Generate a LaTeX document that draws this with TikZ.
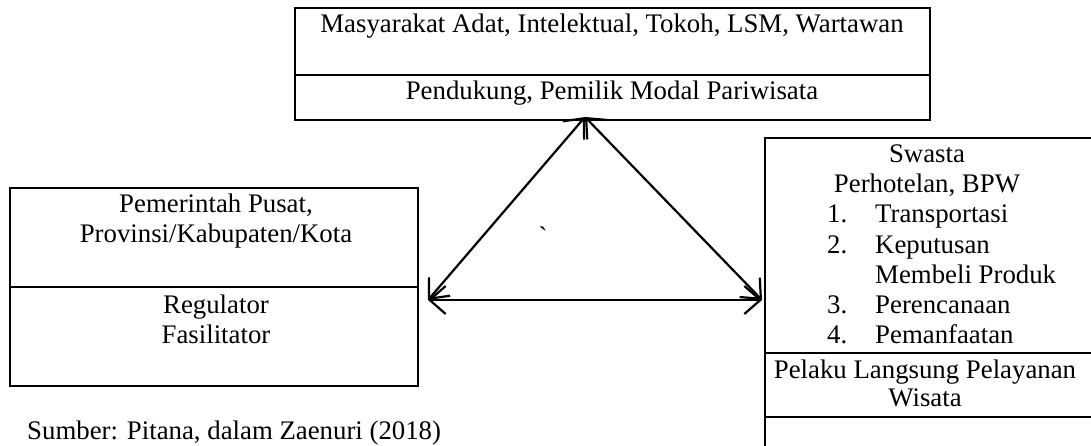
\documentclass[tikz,border=0pt]{standalone}
\usepackage{fontspec}
\setmainfont{Liberation Serif}
\usetikzlibrary{arrows.meta}
\begin{document}
\begin{tikzpicture}[x=1pt,y=-1pt,
  txt/.style={inner sep=0pt, anchor=base, font=\fontsize{26.8}{30}\selectfont},
  txtw/.style={txt, anchor=base west},
  boxline/.style={line width=2.2pt},
  barb/.tip={Straight Barb[length=16pt,width=28pt,line width=2.2pt]},
  rel/.style={line width=2.2pt, barb-barb}
]
\useasboundingbox (0,0) rectangle (1091,446);

% Top box
\node[boxline, draw, minimum width=635pt, minimum height=112pt, inner sep=0pt] (topbox) at (612.5,64) {};
\draw[boxline] (295,75) -- (930,75);
\node[txt] (t1) at (612,33) {Masyarakat Adat, Intelektual, Tokoh, LSM, Wartawan};
\node[txt] (t2) at (612,100) {Pendukung, Pemilik Modal Pariwisata};

% Left box
\node[boxline, draw, minimum width=408pt, minimum height=198pt, inner sep=0pt] (leftbox) at (214,287) {};
\draw[boxline] (10,287) -- (418,287);
\node[txt] (l1) at (216,213) {Pemerintah Pusat,};
\node[txt] (l2) at (216,243) {Provinsi/Kabupaten/Kota};
\node[txt] (l3) at (216,313) {Regulator};
\node[txt] (l4) at (216,343) {Fasilitator};

% Right box (cut by the page edge)
\draw[boxline] (1100,138) -- (765,138) -- (765,460);
\draw[boxline] (765,353) -- (1100,353);
\draw[boxline] (765,417) -- (1100,417);
\node[txt] (r1) at (927,163) {Swasta};
\node[txt] (r2) at (927,193) {Perhotelan, BPW};
\node[txtw] (n1) at (827,223) {1.};
\node[txtw] (r3) at (875,223) {Transportasi};
\node[txtw] (n2) at (827,253) {2.};
\node[txtw] (r4) at (875,253) {Keputusan};
\node[txtw] (r5) at (875,283) {Membeli Produk};
\node[txtw] (n3) at (827,313) {3.};
\node[txtw] (r6) at (875,313) {Perencanaan};
\node[txtw] (n4) at (827,343) {4.};
\node[txtw] (r7) at (875,343) {Pemanfaatan};
\node[txt] (r8) at (925,378) {Pelaku Langsung Pelayanan};
\node[txt] (r9) at (925,406) {Wisata};

% stray mark
\node[txt, anchor=center] (tick) at (543,236) {\textasciigrave};

% Arrows
\coordinate (apex) at (585,117);
\coordinate (pl) at (428,300);
\coordinate (pr) at (762,300);
\draw[rel] (pl) -- (apex);
\draw[rel] (pr) -- (apex);
\draw[rel] (pl) -- (pr);

% Source
\node[txtw] (src) at (27,439) {Sumber: Pitana, dalam Zaenuri (2018)};
\end{tikzpicture}
\end{document}
